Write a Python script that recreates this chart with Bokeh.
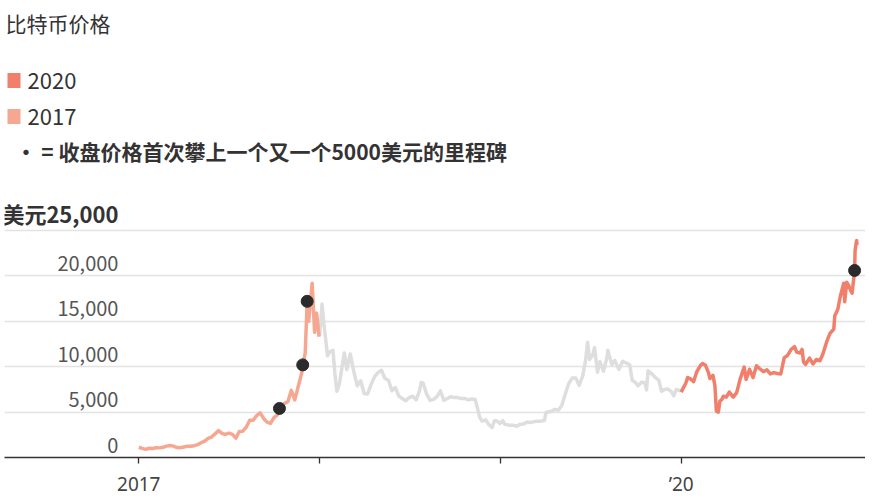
from datetime import datetime
import pandas as pd
from bokeh.plotting import figure
from bokeh.models import ColumnDataSource, Range1d, FixedTicker, Grid, Label, BoxAnnotation
from bokeh.core.properties import value
from bokeh.embed import file_html
from bokeh.resources import INLINE

FONT = "Noto Sans CJK SC"
LATIN = "Noto Sans"

# ---------------- texts ----------------
title_text = "比特币价格"
legend_labels = ["2020", "2017"]
note_text = "• = 收盘价格首次攀上一个又一个5000美元的里程碑"

# ---------------- data ----------------
dates_2017 = [
    "2017-01-01", "2017-01-08", "2017-01-15", "2017-01-22", "2017-01-29",
    "2017-02-05", "2017-02-12", "2017-02-19", "2017-02-26",
    "2017-03-05", "2017-03-12", "2017-03-19", "2017-03-26",
    "2017-04-02", "2017-04-09", "2017-04-16", "2017-04-23", "2017-04-30",
    "2017-05-07", "2017-05-14", "2017-05-21", "2017-05-28",
    "2017-06-04", "2017-06-11", "2017-06-18", "2017-06-25",
    "2017-07-02", "2017-07-09", "2017-07-16", "2017-07-23", "2017-07-30",
    "2017-08-06", "2017-08-13", "2017-08-20", "2017-08-27",
    "2017-09-03", "2017-09-10", "2017-09-17", "2017-09-24",
    "2017-10-01", "2017-10-08", "2017-10-12", "2017-10-15", "2017-10-22", "2017-10-29",
    "2017-11-05", "2017-11-12", "2017-11-19", "2017-11-26", "2017-11-28",
    "2017-12-03", "2017-12-07", "2017-12-10", "2017-12-17", "2017-12-22", "2017-12-26", "2017-12-31",
]
price_2017 = [
    1130, 1000, 900, 1020, 1000,
    1080, 1060, 1120, 1250,
    1320, 1250, 1100, 1070,
    1150, 1230, 1230, 1300, 1420,
    1620, 1800, 2100, 2250,
    2600, 2970, 2650, 2550,
    2680, 2550, 2130, 2860, 2900,
    3340, 4100, 4100, 4620,
    4920, 4300, 3890, 3750,
    4400, 4700, 5400, 5650, 5950, 6150,
    7400, 6350, 7850, 9300, 10200,
    11500, 17200, 15000, 19200, 13800, 15900, 13300,
]

dates_1819 = [
    "2018-01-01", "2018-01-06", "2018-01-10", "2018-01-17", "2018-01-21", "2018-01-28",
    "2018-02-01", "2018-02-05", "2018-02-10", "2018-02-16", "2018-02-20", "2018-02-25",
    "2018-03-04", "2018-03-11", "2018-03-18", "2018-03-25",
    "2018-04-01", "2018-04-08", "2018-04-15", "2018-04-22", "2018-04-29",
    "2018-05-06", "2018-05-13", "2018-05-20", "2018-05-27",
    "2018-06-03", "2018-06-10", "2018-06-17", "2018-06-24",
    "2018-07-01", "2018-07-08", "2018-07-15", "2018-07-22", "2018-07-25", "2018-07-29",
    "2018-08-05", "2018-08-12", "2018-08-19", "2018-08-26",
    "2018-09-02", "2018-09-09", "2018-09-16", "2018-09-23", "2018-09-30",
    "2018-10-07", "2018-10-14", "2018-10-21", "2018-10-28",
    "2018-11-04", "2018-11-11", "2018-11-15", "2018-11-20", "2018-11-25",
    "2018-12-02", "2018-12-09", "2018-12-15", "2018-12-20", "2018-12-24", "2018-12-31",
    "2019-01-06", "2019-01-10", "2019-01-20", "2019-01-27",
    "2019-02-03", "2019-02-10", "2019-02-17", "2019-02-24",
    "2019-03-03", "2019-03-10", "2019-03-17", "2019-03-24", "2019-03-31",
    "2019-04-03", "2019-04-14", "2019-04-21", "2019-04-28",
    "2019-05-05", "2019-05-12", "2019-05-19", "2019-05-26",
    "2019-06-02", "2019-06-09", "2019-06-16", "2019-06-22", "2019-06-26", "2019-06-30",
    "2019-07-07", "2019-07-10", "2019-07-16", "2019-07-21", "2019-07-28",
    "2019-08-04", "2019-08-06", "2019-08-14", "2019-08-20", "2019-08-28",
    "2019-09-05", "2019-09-12", "2019-09-19", "2019-09-24", "2019-09-30",
    "2019-10-06", "2019-10-13", "2019-10-20", "2019-10-23", "2019-10-26",
    "2019-11-03", "2019-11-10", "2019-11-17", "2019-11-22", "2019-11-28",
    "2019-12-05", "2019-12-12", "2019-12-17", "2019-12-22", "2019-12-31",
]
price_1819 = [
    13400, 16900, 14600, 11200, 11600, 11800,
    9200, 7300, 8100, 10200, 11500, 9700,
    11400, 9500, 7900, 8450,
    7050, 7000, 8050, 8900, 9350,
    9600, 8700, 8500, 7350,
    7700, 6750, 6500, 6250,
    6600, 6750, 6350, 7400, 8250, 8200,
    7000, 6300, 6400, 6700,
    7350, 6300, 6500, 6700, 6600,
    6600, 6500, 6500, 6350,
    6450, 6400, 5600, 4450, 4000,
    4150, 3600, 3300, 4050, 4050, 3750,
    4050, 3650, 3550, 3550,
    3450, 3650, 3700, 3900,
    3850, 3950, 4000, 4000, 4100,
    4950, 5100, 5300, 5200,
    5750, 7000, 8150, 8750,
    8750, 7950, 8950, 10700, 12700, 10800,
    11400, 12100, 9400, 10550, 9500,
    11000, 11800, 10200, 10700, 9700,
    10600, 10400, 10200, 8500, 8300,
    7900, 8300, 8200, 7450, 9550,
    9200, 8800, 8500, 7300, 7500,
    7550, 7250, 6800, 7500, 7300,
]

dates_2020 = [
    "2020-01-01", "2020-01-06", "2020-01-10", "2020-01-14", "2020-01-20", "2020-01-26",
    "2020-02-01", "2020-02-09", "2020-02-13", "2020-02-19", "2020-02-25", "2020-02-28",
    "2020-03-05", "2020-03-09", "2020-03-12", "2020-03-16", "2020-03-19", "2020-03-23", "2020-03-26",
    "2020-04-01", "2020-04-07", "2020-04-15", "2020-04-22", "2020-04-29",
    "2020-05-07", "2020-05-11", "2020-05-18", "2020-05-25",
    "2020-06-01", "2020-06-08", "2020-06-15", "2020-06-22", "2020-06-29",
    "2020-07-06", "2020-07-13", "2020-07-20", "2020-07-27",
    "2020-08-02", "2020-08-10", "2020-08-17", "2020-08-21", "2020-08-28",
    "2020-09-01", "2020-09-04", "2020-09-08", "2020-09-16", "2020-09-23", "2020-09-30",
    "2020-10-07", "2020-10-13", "2020-10-21", "2020-10-27",
    "2020-11-04", "2020-11-06", "2020-11-12", "2020-11-17", "2020-11-24", "2020-11-26", "2020-11-30",
    "2020-12-04", "2020-12-08", "2020-12-11", "2020-12-16", "2020-12-17", "2020-12-20", "2020-12-21",
]
price_2020 = [
    7200, 7750, 8150, 8800, 8650, 8350,
    9400, 10150, 10350, 10150, 9350, 8700,
    9050, 7950, 5100, 5000, 6200, 6400, 6750,
    6650, 7200, 6650, 7150, 8650,
    9950, 8600, 9700, 8800,
    10100, 9750, 9450, 9650, 9200,
    9350, 9250, 9200, 11000,
    11200, 11900, 12200, 11600, 11500,
    11900, 10500, 10250, 10950, 10300,
    10800, 10650, 11400, 12800, 13650,
    14150, 15600, 16300, 17700, 19200, 17150, 19300,
    18950, 18400, 18100, 20600, 22800, 23900, 23400,
]

milestone_dates = ["2017-10-12", "2017-11-28", "2017-12-07", "2020-12-16"]
milestone_prices = [5400, 10200, 17200, 20600]

ytick_values = [0, 5000, 10000, 15000, 20000, 25000]
ytick_labels = ["0", "5,000", "10,000", "15,000", "20,000", "美元25,000"]
xtick_dates = ["2017-01-01", "2018-01-01", "2019-01-01", "2020-01-01"]
xtick_labels = ["2017", "", "", "\u201920"]

# ---------------- styles ----------------
C2020 = "#F07F6B"
C2017 = "#F6A792"
CGREY = "#DEDEDE"
CDOT = "#2B2B2B"

assert len(dates_2017) == len(price_2017)
assert len(dates_1819) == len(price_1819)
assert len(dates_2020) == len(price_2020)


def src(dates, prices):
    return ColumnDataSource(dict(date=pd.to_datetime(dates), price=prices))


FRAME_W, FRAME_H = 861, 449
PX_PER_UNIT = 227 / 25000

p = figure(
    frame_width=FRAME_W, frame_height=FRAME_H,
    x_axis_type="datetime", y_axis_location=None,
    x_range=Range1d(datetime(2016, 4, 5), datetime(2021, 1, 7)),
    y_range=Range1d(0, FRAME_H / PX_PER_UNIT),
    output_backend="svg", toolbar_location=None,
    min_border_left=4, min_border_right=0, min_border_top=8, min_border_bottom=0,
)
for g in p.xgrid:
    g.visible = False
for g in p.ygrid:
    g.visible = False
p.outline_line_color = None
p.background_fill_color = "white"
p.border_fill_color = "white"

p.add_layout(Grid(dimension=1, ticker=FixedTicker(ticks=ytick_values),
                  grid_line_color="#E3E3E3", grid_line_width=1.5))

# x axis
xt_ms = [pd.Timestamp(d).value / 1e6 for d in xtick_dates]
ax = p.xaxis[0]
ax.ticker = FixedTicker(ticks=xt_ms)
ax.major_label_overrides = {t: l for t, l in zip(xt_ms, xtick_labels)}
ax.axis_line_color = "#333333"
ax.axis_line_width = 1.6
ax.major_tick_line_color = "#333333"
ax.major_tick_line_width = 1.3
ax.major_tick_out = 6
ax.major_tick_in = 0
ax.minor_tick_out = 0
ax.minor_tick_in = 0
ax.major_label_standoff = 7
ax.major_label_text_font = LATIN
ax.major_label_text_font_size = "19px"
ax.major_label_text_color = "#444444"

# lines
p.line("date", "price", source=src(dates_1819, price_1819), line_width=3.5, line_color=CGREY, line_join="round")
p.line("date", "price", source=src(dates_2017, price_2017), line_width=3.5, line_color=C2017, line_join="round")
p.line("date", "price", source=src(dates_2020, price_2020), line_width=3.5, line_color=C2020, line_join="round")
p.scatter("date", "price", source=src(milestone_dates, milestone_prices), size=12,
          fill_color=CDOT, line_color=CDOT)

# y tick labels inside the plot
label_x = pd.Timestamp("2016-11-21")
ylab = ColumnDataSource(dict(x=[label_x] * (len(ytick_values) - 1), y=ytick_values[:-1], t=ytick_labels[:-1]))
p.text("x", "y", text="t", source=ylab, text_align="right", text_baseline="bottom", y_offset=-5,
       text_font=value(FONT), text_font_size="20px", text_color="#555555")
ytop = ColumnDataSource(dict(x=[label_x], y=ytick_values[-1:], t=ytick_labels[-1:]))
p.text("x", "y", text="t", source=ytop, text_align="right", text_baseline="bottom", y_offset=-2,
       text_font=value(FONT), text_font_size="22px", text_font_style="bold", text_color="#333333")

# header (screen units, measured from the frame's bottom-left)
p.add_layout(Label(x=1, y=FRAME_H - 14, x_units="screen", y_units="screen", text=title_text,
                   text_baseline="middle", text_font=FONT, text_font_size="21px", text_color="#333333"))
for i, (lab, col) in enumerate(zip(legend_labels, [C2020, C2017])):
    yc = FRAME_H - 72 - 36 * i
    p.add_layout(BoxAnnotation(left=3, right=16, bottom=yc - 7.5, top=yc + 7.5,
                               left_units="screen", right_units="screen",
                               bottom_units="screen", top_units="screen",
                               fill_color=col, fill_alpha=1, line_color=None))
    p.add_layout(Label(x=23, y=yc, x_units="screen", y_units="screen", text=lab,
                       text_baseline="middle", text_font=FONT, text_font_size="22px", text_color="#333333"))
p.add_layout(Label(x=11, y=FRAME_H - 142, x_units="screen", y_units="screen", text=note_text,
                   text_baseline="middle", text_font=FONT, text_font_size="21px",
                   text_font_style="bold", text_color="#333333"))

open("out.html", "w", encoding="utf-8").write(file_html(p, INLINE))
